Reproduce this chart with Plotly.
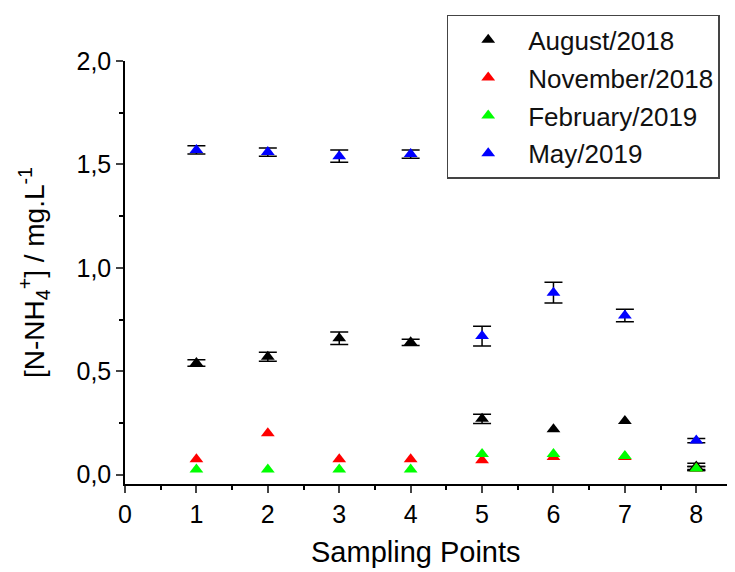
import plotly.graph_objects as go

sampling_points = [1, 2, 3, 4, 5, 6, 7, 8]

series_names = ["August/2018", "November/2018", "February/2019", "May/2019"]
series_colors = ["#000000", "#ff0000", "#00ff00", "#0000ff"]

aug_2018 = [0.54, 0.57, 0.66, 0.64, 0.27, 0.22, 0.26, 0.04]
aug_2018_err = [0.016, 0.022, 0.030, 0.015, 0.022, None, None, 0.015]

nov_2018 = [0.075, 0.20, 0.075, 0.075, 0.07, 0.085, 0.085, 0.03]
nov_2018_err = [None, None, None, None, None, None, None, 0.01]

feb_2019 = [0.025, 0.025, 0.025, 0.025, 0.10, 0.10, 0.09, 0.03]
feb_2019_err = [None, None, None, None, None, None, None, 0.01]

may_2019 = [1.57, 1.56, 1.54, 1.55, 0.67, 0.88, 0.77, 0.165]
may_2019_err = [0.02, 0.02, 0.03, 0.02, 0.048, 0.05, 0.03, 0.01]

values = [aug_2018, nov_2018, feb_2019, may_2019]
errors = [aug_2018_err, nov_2018_err, feb_2019_err, may_2019_err]

y_tick_vals = [0.0, 0.5, 1.0, 1.5, 2.0]
y_tick_text = ["0,0", "0,5", "1,0", "1,5", "2,0"]
x_tick_vals = [0, 1, 2, 3, 4, 5, 6, 7, 8]

FONT = "Liberation Sans, Arial, sans-serif"

fig = go.Figure()
for name, color, vals, errs in zip(series_names, series_colors, values, errors):
    ex = [x for x, e in zip(sampling_points, errs) if e is not None]
    ey = [v for v, e in zip(vals, errs) if e is not None]
    ee = [e for e in errs if e is not None]
    # error bars only where the reference shows them
    fig.add_trace(go.Scatter(
        x=ex, y=ey, mode="markers", showlegend=False, hoverinfo="skip",
        marker=dict(size=1, opacity=0),
        error_y=dict(type="data", array=ee, visible=True, color="#000000",
                     thickness=1.5, width=9),
    ))
    fig.add_trace(go.Scatter(
        x=sampling_points, y=vals, name=name, mode="markers", legendgroup=name,
        marker=dict(symbol="triangle-up", size=12, color=color, line=dict(width=0)),
    ))

fig.update_layout(
    width=735, height=572,
    margin=dict(l=117, r=11, t=53, b=96, autoexpand=False),
    paper_bgcolor="white", plot_bgcolor="white",
    font=dict(family=FONT, color="#000000"),
    showlegend=True,
    legend=dict(
        x=0.53, y=1.109, xanchor="left", yanchor="top",
        bordercolor="#444444", borderwidth=1.5, bgcolor="white",
        font=dict(size=26, family=FONT, color="#111111"),
        tracegroupgap=1, itemsizing="constant", itemwidth=70,
    ),
    annotations=[dict(
        text="Sampling Points", xref="paper", yref="paper",
        x=0.479, y=-0.161, xanchor="center", yanchor="middle", showarrow=False,
        font=dict(size=29, family=FONT, color="#000000"),
    )],
)
fig.update_xaxes(
    range=[0, 8.5], tickvals=x_tick_vals, ticks="outside", ticklen=7, tickwidth=1.5,
    showline=True, linewidth=1.5, linecolor="black", showgrid=False, zeroline=False,
    tickfont=dict(size=25, family=FONT), automargin=False,
    minor=dict(dtick=0.5, ticks="outside", ticklen=4, tickwidth=1.5, tickcolor="black"),
)
fig.update_yaxes(
    range=[-0.045, 2.0], tickvals=y_tick_vals, ticktext=y_tick_text,
    ticks="outside", ticklen=7, tickwidth=1.5, automargin=False,
    showline=True, linewidth=1.5, linecolor="black", showgrid=False, zeroline=False,
    tickfont=dict(size=25, family=FONT),
    minor=dict(tickvals=[0.25, 0.75, 1.25, 1.75], ticks="outside", ticklen=4,
               tickwidth=1.5, tickcolor="black"),
    title=dict(text="[N-NH<sub>4</sub><sup>+</sup>] / mg.L<sup>-1</sup>",
               font=dict(size=28, family=FONT), standoff=24),
)

fig.write_html("out.html")
